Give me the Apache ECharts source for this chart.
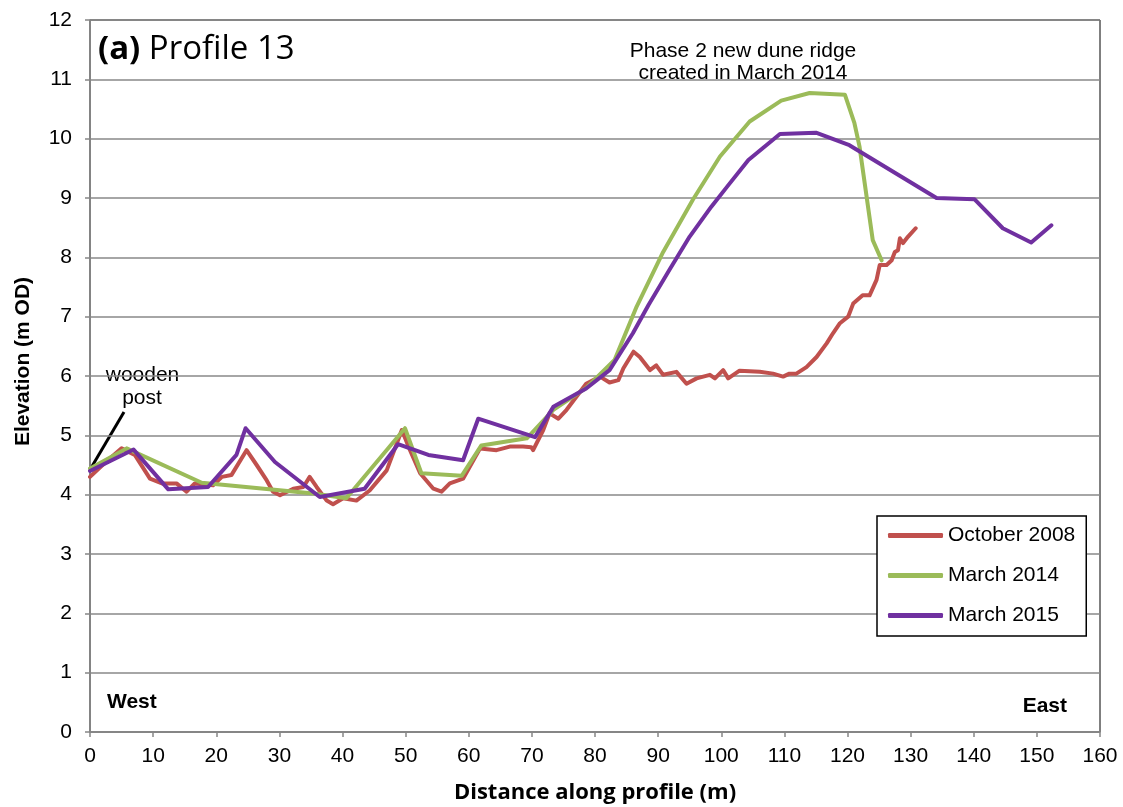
<!DOCTYPE html>
<html lang="en">
	<head>
		<meta charset="UTF-8">
		<title>Profile 13</title>
		<style>
			html, body { margin: 0; padding: 0; background: #fff; }
		</style>
	</head>
	<body>
		<div id="chart" style="width:1123px; height:807px"></div>
		<script src="https://cdn.jsdelivr.net/npm/echarts@6/dist/echarts.min.js"></script>
		<script>
			// 剖面数据 [距离 m, 高程 m OD]
			var seriesNames = ['October 2008', 'March 2014', 'March 2015'];
			var seriesColors = ['#C0504D', '#9BBB59', '#7030A0'];
			var xTicks = [0, 160, 10];
			var yTicks = [0, 12, 1];

			var oct2008 = [
				[0, 4.3], [2.5, 4.55], [5.0, 4.78], [7.1, 4.67], [9.5, 4.27], [11.4, 4.19],
				[13.7, 4.19], [15.3, 4.05], [16.6, 4.19], [19.5, 4.16], [20.9, 4.3], [22.4, 4.33],
				[24.8, 4.75], [26.4, 4.5], [28.0, 4.24], [29.0, 4.05], [30.1, 3.99], [32.2, 4.1],
				[33.8, 4.13], [34.8, 4.3], [35.9, 4.13], [37.5, 3.9], [38.5, 3.84], [40.1, 3.94],
				[42.2, 3.9], [44.3, 4.07], [47.0, 4.41], [49.4, 5.09], [50.7, 4.75], [52.3, 4.36],
				[54.4, 4.1], [55.7, 4.05], [57.0, 4.19], [59.1, 4.27], [61.8, 4.78], [64.4, 4.75],
				[66.5, 4.81], [68.6, 4.81], [69.9, 4.8], [70.2, 4.75], [71.8, 5.09], [72.8, 5.37],
				[74.2, 5.28], [75.5, 5.43], [78.6, 5.87], [80.8, 5.99], [82.3, 5.89], [83.7, 5.93],
				[84.5, 6.13], [86.1, 6.41], [87.1, 6.32], [88.7, 6.1], [89.7, 6.18], [90.8, 6.02],
				[92.9, 6.07], [94.5, 5.87], [96.1, 5.96], [98.2, 6.02], [99.0, 5.96], [100.3, 6.1],
				[101.1, 5.96], [102.9, 6.09], [106.1, 6.07], [108.2, 6.04], [109.8, 5.99], [110.8, 6.04],
				[111.9, 6.04], [113.5, 6.15], [115.1, 6.32], [116.7, 6.55], [117.7, 6.72], [118.8, 6.89],
				[120.1, 7.0], [120.9, 7.22], [122.4, 7.36], [123.5, 7.36], [124.6, 7.62], [125.1, 7.87],
				[126.2, 7.87], [127.0, 7.95], [127.5, 8.09], [128.0, 8.12], [128.3, 8.32], [128.8, 8.24],
				[129.6, 8.35], [130.8, 8.49]
			];
			var mar2014 = [
				[0, 4.44], [5.8, 4.78], [17.7, 4.2], [35.4, 4.02], [40.6, 3.94], [49.9, 5.12],
				[52.5, 4.36], [58.9, 4.32], [62.0, 4.83], [69.2, 4.95], [73.4, 5.43], [78.6, 5.8],
				[83.1, 6.27], [86.6, 7.17], [90.8, 8.09], [95.5, 8.97], [99.8, 9.7], [104.5, 10.29],
				[109.5, 10.64], [114.0, 10.77], [119.6, 10.74], [121.1, 10.26], [121.9, 9.87],
				[124.0, 8.29], [125.4, 7.95]
			];
			var mar2015 = [
				[0, 4.4], [6.9, 4.76], [12.4, 4.09], [18.7, 4.13], [23.2, 4.67], [24.65, 5.12],
				[29.3, 4.55], [36.4, 3.96], [43.5, 4.1], [48.8, 4.85], [53.6, 4.67], [59.1, 4.58],
				[61.5, 5.28], [70.5, 4.97], [73.4, 5.48], [78.6, 5.79], [82.3, 6.1], [86.0, 6.72],
				[88.5, 7.2], [91.8, 7.79], [95.0, 8.35], [98.4, 8.85], [101.0, 9.2], [104.3, 9.64],
				[109.3, 10.08], [115.0, 10.10], [120.3, 9.89], [134.1, 9.0], [140.1, 8.98],
				[144.6, 8.49], [149.1, 8.25], [152.3, 8.54]
			];
			var allData = [oct2008, mar2014, mar2015];

			var chart = echarts.init(document.getElementById('chart'));
			var fontArial = '"Liberation Sans", Arial, sans-serif';
			var fontCal = '"Open Sans", "Noto Sans", sans-serif';

			var series = [];
			for (var i = 0; i < allData.length; i++) {
				series.push({
					name: seriesNames[i],
					type: 'line',
					data: allData[i],
					showSymbol: false,
					symbol: 'none',
					animation: false,
					lineStyle: { color: seriesColors[i], width: 4, cap: 'round', join: 'round' },
					itemStyle: { color: seriesColors[i] }
				});
			}

			option = {
				animation: false,
				grid: {
					left: 90, right: 23, top: 20, bottom: 75,
					show: true, borderColor: '#000', borderWidth: 1
				},
				legend: {
					orient: 'vertical',
					left: 877, top: 516,
					padding: [9, 11, 10, 11],
					itemGap: 19,
					itemWidth: 55, itemHeight: 5,
					icon: 'roundRect',
					backgroundColor: '#fff',
					borderColor: '#000', borderWidth: 1.5,
					borderRadius: 0,
					selectedMode: false,
					textStyle: { fontFamily: fontArial, fontSize: 21, color: '#000' },
					data: seriesNames
				},
				xAxis: {
					type: 'value',
					min: xTicks[0], max: xTicks[1], interval: xTicks[2],
					axisLine: { show: true, onZero: false, lineStyle: { color: '#868686', width: 1.5 } },
					axisTick: { show: true, length: 5, lineStyle: { color: '#868686', width: 1.5 } },
					axisLabel: { fontFamily: fontArial, fontSize: 21, color: '#000', margin: 14 },
					splitLine: { show: false }
				},
				yAxis: {
					type: 'value',
					min: yTicks[0], max: yTicks[1], interval: yTicks[2],
					axisLine: { show: true, lineStyle: { color: '#868686', width: 1.5 } },
					axisTick: { show: true, length: 5, lineStyle: { color: '#868686', width: 1.5 } },
					axisLabel: { fontFamily: fontArial, fontSize: 21, color: '#000', margin: 18 },
					splitLine: { show: true, lineStyle: { color: '#898989', width: 1.5 } }
				},
				graphic: [
					{
						type: 'text', x: 98, y: 50,
						style: {
							text: '{b|(a)} Profile 13',
							font: '33px ' + fontCal, fill: '#000', verticalAlign: 'middle',
							rich: { b: { fontFamily: fontCal, fontWeight: 'bold', fontSize: 33 } }
						}
					},
					{
						type: 'text', x: 743, y: 51,
						style: {
							text: 'Phase 2 new dune ridge',
							font: '21px ' + fontArial, fill: '#000',
							align: 'center', verticalAlign: 'middle'
						}
					},
					{
						type: 'text', x: 743, y: 73,
						style: {
							text: 'created in March 2014',
							font: '21px ' + fontArial, fill: '#000',
							align: 'center', verticalAlign: 'middle'
						}
					},
					{
						type: 'text', x: 142.5, y: 375,
						style: {
							text: 'wooden',
							font: '21px ' + fontArial, fill: '#000',
							align: 'center', verticalAlign: 'middle'
						}
					},
					{
						type: 'text', x: 142, y: 398,
						style: {
							text: 'post',
							font: '21px ' + fontArial, fill: '#000',
							align: 'center', verticalAlign: 'middle'
						}
					},
					{
						type: 'line',
						shape: { x1: 91, y1: 468, x2: 124, y2: 412 },
						style: { stroke: '#000', lineWidth: 3 }
					},
					{
						type: 'text', x: 107, y: 702,
						style: { text: 'West', font: 'bold 21px ' + fontArial, fill: '#000', verticalAlign: 'middle' }
					},
					{
						type: 'text', x: 1067, y: 706,
						style: { text: 'East', font: 'bold 21px ' + fontArial, fill: '#000', align: 'right', verticalAlign: 'middle' }
					},
					{
						type: 'text', x: 23, y: 361.5, rotation: Math.PI / 2,
						style: {
							text: 'Elevation (m OD)',
							font: 'bold 21px ' + fontArial, fill: '#000',
							align: 'center', verticalAlign: 'middle'
						}
					},
					{
						type: 'text', x: 595, y: 793,
						style: {
							text: 'Distance along profile (m)',
							font: 'bold 22px ' + fontCal, fill: '#000',
							align: 'center', verticalAlign: 'middle'
						}
					}
				],
				series: series
			};
			chart.setOption(option);
		</script>
	</body>
</html>
